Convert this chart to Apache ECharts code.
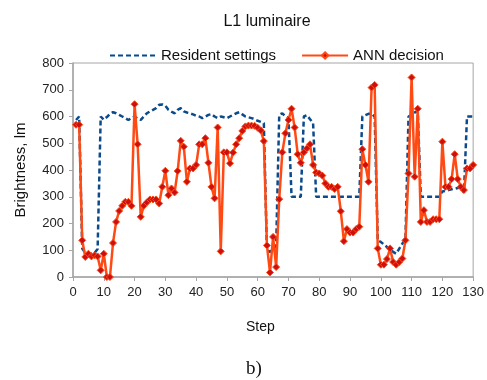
<!DOCTYPE html>
<html>
<head>
<meta charset="utf-8">
<script src="https://cdn.jsdelivr.net/npm/echarts@6/dist/echarts.min.js"></script>
<style>
  html, body { margin: 0; padding: 0; background: #fff; }
  #main { width: 487px; height: 380px; }
</style>
</head>
<body>
<div id="main"></div>
<script>
// steps 1..130
var steps = [];
for (var i = 1; i <= 130; i++) steps.push(i);

var resident = [
  587, 600, 106, 90, 88, 87, 90, 105, 600, 588,
  598, 610, 616, 612, 606, 600, 594, 587, 594, 600,
  592, 587, 600, 612, 619, 625, 631, 644, 645, 640,
  625, 618, 612, 625, 631, 619, 615, 612, 608, 603,
  600, 594, 600, 606, 609, 600, 594, 600, 597, 594,
  600, 606, 612, 616, 608, 600, 597, 594, 590, 584,
  580, 575, 100, 94, 105, 115, 606, 612, 600, 594,
  300, 300, 300, 300, 600, 605, 590, 575, 300, 300,
  300, 300, 300, 300, 300, 300, 300, 300, 300, 300,
  300, 300, 300, 600, 605, 610, 610, 600, 137, 131,
  122, 112, 103, 94, 87, 106, 125, 140, 600, 606,
  615, 620, 300, 300, 300, 300, 300, 300, 300, 320,
  322, 325, 328, 330, 333, 335, 315, 600, 600, 600
];

var ann = [
  569, 569, 137, 75, 87, 77, 81, 77, 25, 87,
  0, 0, 127, 206, 247, 266, 281, 281, 266, 646,
  496, 225, 266, 279, 290, 290, 290, 275, 337, 397,
  306, 331, 316, 396, 509, 487, 356, 406, 406, 419,
  496, 496, 519, 427, 337, 294, 559, 96, 466, 466,
  425, 465, 496, 519, 546, 563, 566, 566, 565, 558,
  548, 508, 118, 17, 150, 37, 291, 466, 537, 587,
  629, 559, 459, 427, 466, 481, 496, 419, 391, 387,
  379, 350, 337, 337, 329, 337, 246, 134, 179, 166,
  166, 179, 188, 478, 419, 356, 708, 718, 107, 46,
  46, 67, 107, 56, 46, 56, 69, 137, 387, 746,
  375, 629, 206, 250, 206, 206, 216, 216, 216, 506,
  337, 337, 366, 459, 366, 337, 325, 406, 406, 419
];

function pairs(vals) {
  return steps.map(function (s, k) { return [s, vals[k]]; });
}

var myChart = echarts.init(document.getElementById('main'));
var font = 'Liberation Sans, Arial, sans-serif';

option = {
  animation: false,
  textStyle: { fontFamily: font },
  title: {
    text: 'L1 luminaire',
    left: 262,
    textAlign: 'center',
    top: 9,
    textStyle: { fontSize: 16, fontWeight: 'normal', color: '#111', fontFamily: font }
  },
  legend: {
    top: 43,
    left: 104,
    itemWidth: 46,
    itemHeight: 8,
    itemGap: 25,
    textStyle: { fontSize: 15, color: '#111', fontFamily: font },
    data: [
      { name: 'Resident settings', itemStyle: { opacity: 0 } },
      'ANN decision'
    ]
  },
  grid: {
    left: 73,
    right: 12,
    top: 63,
    bottom: 103,
    show: true,
    borderColor: '#a6a6a6',
    borderWidth: 1
  },
  xAxis: {
    type: 'value',
    min: 0,
    max: 130,
    interval: 10,
    splitLine: { show: false },
    axisLine: { lineStyle: { color: '#a6a6a6', width: 1.5 } },
    axisTick: { show: true, length: 4, lineStyle: { color: '#a6a6a6' } },
    axisLabel: { fontSize: 13, color: '#222', margin: 9, fontFamily: font }
  },
  yAxis: {
    type: 'value',
    min: 0,
    max: 800,
    interval: 100,
    name: 'Brightness, lm',
    nameLocation: 'middle',
    nameGap: 45,
    nameTextStyle: { fontSize: 15, color: '#111', fontFamily: font },
    splitLine: { show: false },
    axisLine: { show: true, lineStyle: { color: '#a6a6a6', width: 1.5 } },
    axisTick: { show: true, length: 4, lineStyle: { color: '#a6a6a6' } },
    axisLabel: { fontSize: 13, color: '#222', margin: 9, fontFamily: font }
  },
  graphic: [
    {
      type: 'text', left: 246, top: 320,
      style: { text: 'Step', fontSize: 14, fill: '#111', fontFamily: font }
    },
    {
      type: 'text', left: 246, top: 360,
      style: { text: 'b)', fontSize: 19, fill: '#111', fontFamily: 'Liberation Serif, serif' }
    }
  ],
  series: [
    {
      name: 'Resident settings',
      type: 'line',
      data: pairs(resident),
      symbol: 'none',
      lineStyle: { color: '#0b4a8b', width: 2.5, type: [5, 3] },
      itemStyle: { color: '#0b4a8b' },
      z: 2
    },
    {
      name: 'ANN decision',
      type: 'line',
      data: pairs(ann),
      symbol: 'diamond',
      symbolSize: 7,
      lineStyle: { color: '#ff4a14', width: 2.5 },
      itemStyle: { color: '#cc1010', borderColor: '#ff4a14', borderWidth: 1 },
      z: 3
    }
  ]
};

myChart.setOption(option);
</script>
</body>
</html>
